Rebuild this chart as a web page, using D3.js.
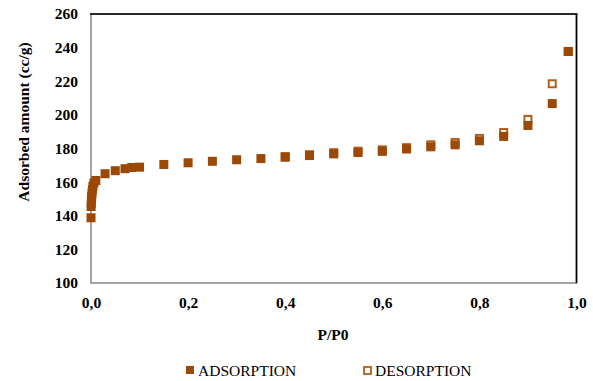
<!DOCTYPE html>
<html><head><meta charset="utf-8">
<script src="https://cdn.jsdelivr.net/npm/d3@7"></script>
<style>body{margin:0;background:#fff}svg{display:block}</style>
</head><body>
<svg id="c" width="593" height="381"></svg>
<script>
const adsP = [0.0, 0.0003, 0.0006, 0.001, 0.0015, 0.002, 0.003, 0.004, 0.006, 0.01, 0.029, 0.05, 0.07, 0.084, 0.1, 0.15, 0.2, 0.25, 0.3, 0.35, 0.4, 0.45, 0.5, 0.55, 0.6, 0.65, 0.7, 0.75, 0.8, 0.85, 0.9, 0.95, 0.983];
const adsV = [138.8, 145.5, 147.5, 149.5, 151.5, 153.5, 155.5, 157.5, 159.5, 161, 165, 166.8, 168, 168.7, 168.9, 170.5, 171.5, 172.4, 173.3, 174, 174.8, 175.8, 176.8, 177.6, 178.3, 179.7, 181, 182.2, 184.6, 187.2, 193.7, 206.7, 237.7];
const desP = [0.4, 0.45, 0.5, 0.55, 0.6, 0.65, 0.7, 0.75, 0.8, 0.85, 0.9, 0.95, 0.983];
const desV = [175.2, 176.3, 177.5, 178.4, 179.2, 180.5, 182.2, 183.6, 186, 189.5, 197.3, 218.5, 237.7];
const xTicks = [0, 0.2, 0.4, 0.6, 0.8, 1.0];
const yTicks = [100, 120, 140, 160, 180, 200, 220, 240, 260];
const seriesNames = ["ADSORPTION", "DESORPTION"];

const svg = d3.select("#c");
const L = 91, R = 576.5, T = 14, B = 283;
const x = d3.scaleLinear().domain([0, 1]).range([L, R]);
const y = d3.scaleLinear().domain([100, 260]).range([B, T]);
const fillC = "#9c4806", strokeC = "#b35e1c";
const serif = "'Liberation Serif','Times New Roman',serif";
const fs = 15.5;

// frame
svg.append("rect").attr("x", L).attr("y", T).attr("width", R - L).attr("height", B - T)
  .attr("fill", "none").attr("stroke", "#8c8c8c").attr("stroke-width", 1.6);
svg.append("line").attr("x1", L - 1).attr("x2", R + 1).attr("y1", T).attr("y2", T).attr("stroke", "#000").attr("stroke-width", 1.6);
svg.append("line").attr("x1", R).attr("x2", R).attr("y1", T).attr("y2", B).attr("stroke", "#000").attr("stroke-width", 1.6);

// axes labels
const fmt = d3.format(".1f");
const xAxis = d3.axisBottom(x).tickValues(xTicks).tickSize(0).tickPadding(14)
  .tickFormat(d => fmt(d).replace(".", ","));
const gx = svg.append("g").attr("transform", `translate(0,${B})`).call(xAxis);
gx.select(".domain").remove();
gx.selectAll("text").attr("font-family", serif).attr("font-weight", "bold").attr("font-size", fs).attr("fill", "#000");

const yAxis = d3.axisLeft(y).tickValues(yTicks).tickSize(0).tickPadding(13);
const gy = svg.append("g").attr("transform", `translate(${L},0)`).call(yAxis);
gy.select(".domain").remove();
gy.selectAll("text").attr("font-family", serif).attr("font-weight", "bold").attr("font-size", fs).attr("fill", "#000");

svg.append("text").attr("x", 333).attr("y", 340).attr("text-anchor", "middle")
  .attr("font-family", serif).attr("font-weight", "bold").attr("font-size", fs).text("P/P0");
svg.append("text").attr("transform", "translate(29,122) rotate(-90)").attr("text-anchor", "middle")
  .attr("font-family", serif).attr("font-weight", "bold").attr("font-size", fs).text("Adsorbed amount (cc/g)");

// desorption (hollow)
const s = 9;
svg.append("g").selectAll("rect").data(desP.map((p, i) => [p, desV[i]])).join("rect")
  .attr("x", d => x(d[0]) - s / 2 + 1).attr("y", d => y(d[1]) - s / 2 + 1)
  .attr("width", s - 2).attr("height", s - 2)
  .attr("fill", "#fff").attr("stroke", strokeC).attr("stroke-width", 2);
// adsorption (filled)
svg.append("g").selectAll("rect").data(adsP.map((p, i) => [p, adsV[i]])).join("rect")
  .attr("x", d => x(d[0]) - s / 2).attr("y", d => y(d[1]) - s / 2)
  .attr("width", s).attr("height", s).attr("fill", fillC);

// legend
const lg = svg.append("g");
lg.append("rect").attr("x", 186).attr("y", 366).attr("width", 8).attr("height", 8).attr("fill", fillC);
lg.append("text").attr("x", 198).attr("y", 376).attr("font-family", serif).attr("font-size", fs).text(seriesNames[0]);
lg.append("rect").attr("x", 364).attr("y", 367).attr("width", 7).attr("height", 7)
  .attr("fill", "#fff").attr("stroke", strokeC).attr("stroke-width", 1.8);
lg.append("text").attr("x", 375).attr("y", 376).attr("font-family", serif).attr("font-size", fs).text(seriesNames[1]);
</script>
</body></html>
